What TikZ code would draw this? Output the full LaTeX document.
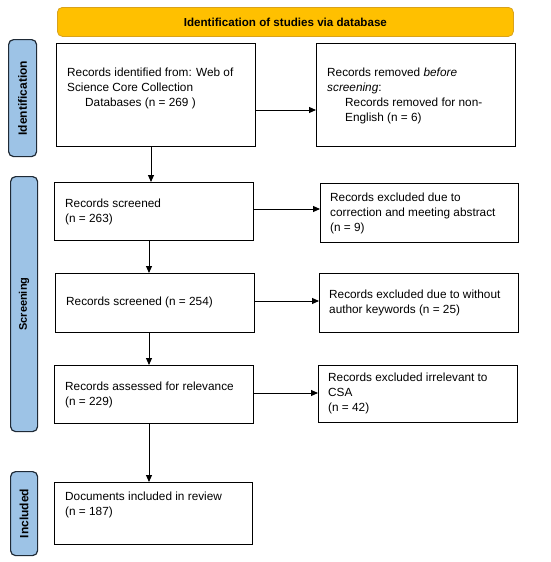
\documentclass[tikz,border=0pt]{standalone}
\usepackage{fontspec}
\setmainfont{Liberation Sans}
\usetikzlibrary{arrows.meta,calc}
\definecolor{hdr}{HTML}{FFC000}
\definecolor{hdrline}{HTML}{D9A21B}
\definecolor{side}{HTML}{9DC3E6}
\definecolor{sideline}{HTML}{1F2A36}
\tikzset{
  box/.style={draw=black, line width=1.3pt, fill=white, inner sep=0pt, anchor=north west},
  txt/.style={anchor=west, align=left, inner sep=0pt, font=\fontsize{11.8}{15}\selectfont},
  sidebar/.style={draw=sideline, fill=side, line width=1.2pt, rounded corners=5pt, inner sep=0pt, anchor=north west},
  sidelabel/.style={rotate=90, font=\bfseries\fontsize{12}{14}\selectfont, inner sep=0pt},
  arr/.style={draw=black, line width=0.9pt, -{Triangle[length=7pt,width=6pt]}},
}
\begin{document}
\begin{tikzpicture}[x=1pt,y=-1pt]
\useasboundingbox (0,0) rectangle (550,562);
% header
\node[draw=hdrline, fill=hdr, line width=0.8pt, rounded corners=5pt, minimum width=456pt, minimum height=29pt, anchor=north west, inner sep=0pt] (hd) at (57,7) {};
\node[font=\bfseries\fontsize{11.6}{14}\selectfont] at (hd.center) {Identification of studies via database};
% side bars
\node[sidebar, minimum width=28pt, minimum height=117pt] (s1) at (8,39) {};
\node[sidelabel] at (s1.center) {Identification};
\node[sidebar, minimum width=27pt, minimum height=255pt] (s2) at (10,176) {};
\node[sidelabel, font=\bfseries\fontsize{11}{13}\selectfont] at (s2.center) {Screening};
\node[sidebar, minimum width=27pt, minimum height=84pt] (s3) at (10,471) {};
\node[sidelabel] at (s3.center) {Included};
% boxes
\node[box, minimum width=199pt, minimum height=103pt] (b1) at (56,43) {};
\node[txt] at (67,88.5) {Records identified from: Web of\\Science Core Collection\\\hspace{18pt}Databases (n = 269 )};
\node[box, minimum width=199pt, minimum height=103pt] (r1) at (316,43) {};
\node[txt] at (327,96) {Records removed \textit{before}\\\textit{screening}:\\\hspace{18pt}Records removed for non-\\\hspace{18pt}English (n = 6)};

\node[box, minimum width=199pt, minimum height=58pt] (b2) at (54,182) {};
\node[txt] at (65,211.5) {Records screened\\(n = 263)};
\node[box, minimum width=198pt, minimum height=59pt] (r2) at (320,183) {};
\node[txt] at (330,213) {Records excluded due to\\correction and meeting abstract\\(n = 9)};

\node[box, minimum width=199pt, minimum height=59pt] (b3) at (55,273) {};
\node[txt] at (66,302.5) {Records screened (n = 254)};
\node[box, minimum width=199pt, minimum height=59pt] (r3) at (319,273) {};
\node[txt] at (329,303) {Records excluded due to without\\author keywords (n = 25)};

\node[box, minimum width=199pt, minimum height=58pt] (b4) at (54,365) {};
\node[txt] at (65,395) {Records assessed for relevance\\(n = 229)};
\node[box, minimum width=199pt, minimum height=57pt] (r4) at (318,365) {};
\node[txt] at (328,393.5) {Records excluded irrelevant to\\CSA\\(n = 42)};

\node[box, minimum width=198pt, minimum height=62pt] (b5) at (54,482) {};
\node[txt] at (65,505) {Documents included in review\\(n = 187)};

% arrows
\draw[arr] (b1.east |- 0,110) -- (r1.west |- 0,110);
\draw[arr] (b2.east |- 0,209) -- (r2.west |- 0,209);
\draw[arr] (b3.east |- 0,301) -- (r3.west |- 0,301);
\draw[arr] (b4.east |- 0,393) -- (r4.west |- 0,393);
\draw[arr] (151,0 |- b1.south) -- (151,0 |- b2.north);
\draw[arr] (149,0 |- b2.south) -- (149,0 |- b3.north);
\draw[arr] (149,0 |- b3.south) -- (149,0 |- b4.north);
\draw[arr] (149,0 |- b4.south) -- (149,0 |- b5.north);
\end{tikzpicture}
\end{document}
